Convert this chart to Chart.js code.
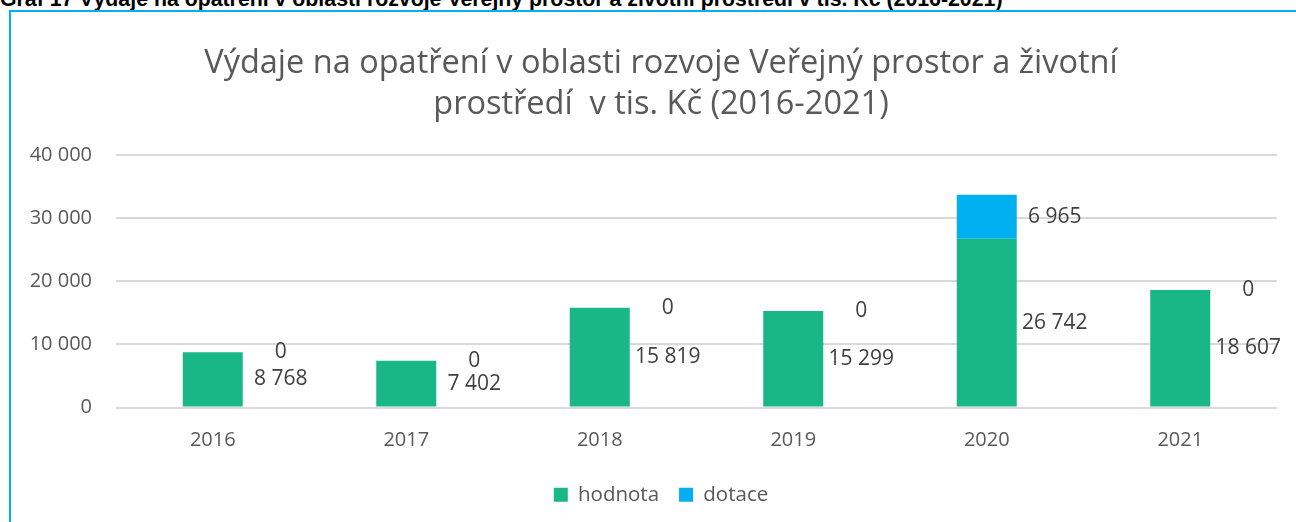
<!DOCTYPE html>
<html lang="cs">
<head>
<meta charset="utf-8">
<title>Výdaje na opatření – Veřejný prostor a životní prostředí</title>
<script src="https://cdn.jsdelivr.net/npm/chart.js@4"></script>
<style>
  html, body { margin: 0; padding: 0; background: #fff; overflow: hidden; }
  body { width: 1296px; height: 522px; position: relative; }
  .caption {
    position: absolute; left: 0; top: -11px; white-space: nowrap;
    font: bold 21.3px "Liberation Sans", Arial, sans-serif; line-height: 21px; color: #000;
  }
  .frame {
    position: absolute; left: 9px; top: 10px; width: 1300px; height: 530px;
    border: 2px solid #00B0F0; box-sizing: border-box;
  }
  #chart { position: absolute; left: 0; top: 0; }
</style>
</head>
<body>
<div class="caption">Graf 17 Výdaje na opatření v oblasti rozvoje Veřejný prostor a životní prostředí v tis. Kč (2016-2021)</div>
<div class="frame"></div>
<canvas id="chart" width="1296" height="522"></canvas>
<script>
const years = ['2016', '2017', '2018', '2019', '2020', '2021'];
const hodnota = [8768, 7402, 15819, 15299, 26742, 18607];
const dotace = [0, 0, 0, 0, 6965, 0];
const titleLines = ['Výdaje na opatření v oblasti rozvoje Veřejný prostor a životní', 'prostředí  v tis. Kč (2016-2021)'];

const FONT = '"Open Sans", sans-serif';

// 12345 -> "12 345"
function fmt(v) {
  return String(Math.round(v)).replace(/\B(?=(\d{3})+(?!\d))/g, ' ');
}

// value labels to the right of each stacked segment, at the segment's middle
const sideLabels = {
  id: 'sideLabels',
  afterDatasetsDraw(chart) {
    const ctx = chart.ctx;
    ctx.save();
    ctx.font = '21px ' + FONT;
    ctx.fillStyle = '#404040';
    ctx.textAlign = 'center';
    ctx.textBaseline = 'middle';
    chart.data.datasets.forEach((ds, di) => {
      chart.getDatasetMeta(di).data.forEach((bar, i) => {
        const x = bar.x + bar.width / 2 + 38;
        const y = (bar.y + bar.base) / 2;
        ctx.fillText(fmt(ds.data[i]), x, y);
      });
    });
    ctx.restore();
  }
};

// title and legend sit centred on the framed panel, not on the canvas
const shiftBlocks = {
  id: 'shiftBlocks',
  afterLayout(chart) {
    [chart.titleBlock, chart.legend].forEach(b => {
      if (!b) return;
      b.left += 18.5;
      b.right += 18.5;
    });
  }
};

new Chart(document.getElementById('chart'), {
  type: 'bar',
  data: {
    labels: years,
    datasets: [
      { label: 'hodnota', data: hodnota, backgroundColor: '#18B785', barPercentage: 0.31, categoryPercentage: 1 },
      { label: 'dotace', data: dotace, backgroundColor: '#00B0F0', barPercentage: 0.31, categoryPercentage: 1 },
    ],
  },
  options: {
    responsive: false,
    animation: false,
    layout: { padding: { left: 8, right: 19, top: 0, bottom: 7 } },
    plugins: {
      title: {
        display: true,
        text: titleLines,
        color: '#595959',
        font: { family: FONT, size: 32.5, weight: 'normal', lineHeight: 41 / 32.5 },
        padding: { top: 43, bottom: 30 },
      },
      legend: {
        position: 'bottom',
        labels: {
          color: '#595959',
          font: { family: FONT, size: 20.5 },
          boxWidth: 14,
          boxHeight: 14,
          padding: 20,
        },
      },
      tooltip: { enabled: false },
    },
    scales: {
      x: {
        stacked: true,
        afterFit(s) { s.height = 57; },
        grid: { display: false, drawTicks: false },
        border: { display: false },
        ticks: { color: '#595959', font: { family: FONT, size: 20 }, padding: 21 },
      },
      y: {
        stacked: true,
        min: 0,
        max: 40000,
        afterFit(s) { s.width = 108; },
        grid: { color: '#D9D9D9', lineWidth: 2, drawTicks: false },
        border: { display: false },
        ticks: {
          stepSize: 10000,
          color: '#595959',
          font: { family: FONT, size: 20 },
          padding: 24,
          callback: v => fmt(v),
        },
      },
    },
  },
  plugins: [sideLabels, shiftBlocks],
});
</script>
</body>
</html>
